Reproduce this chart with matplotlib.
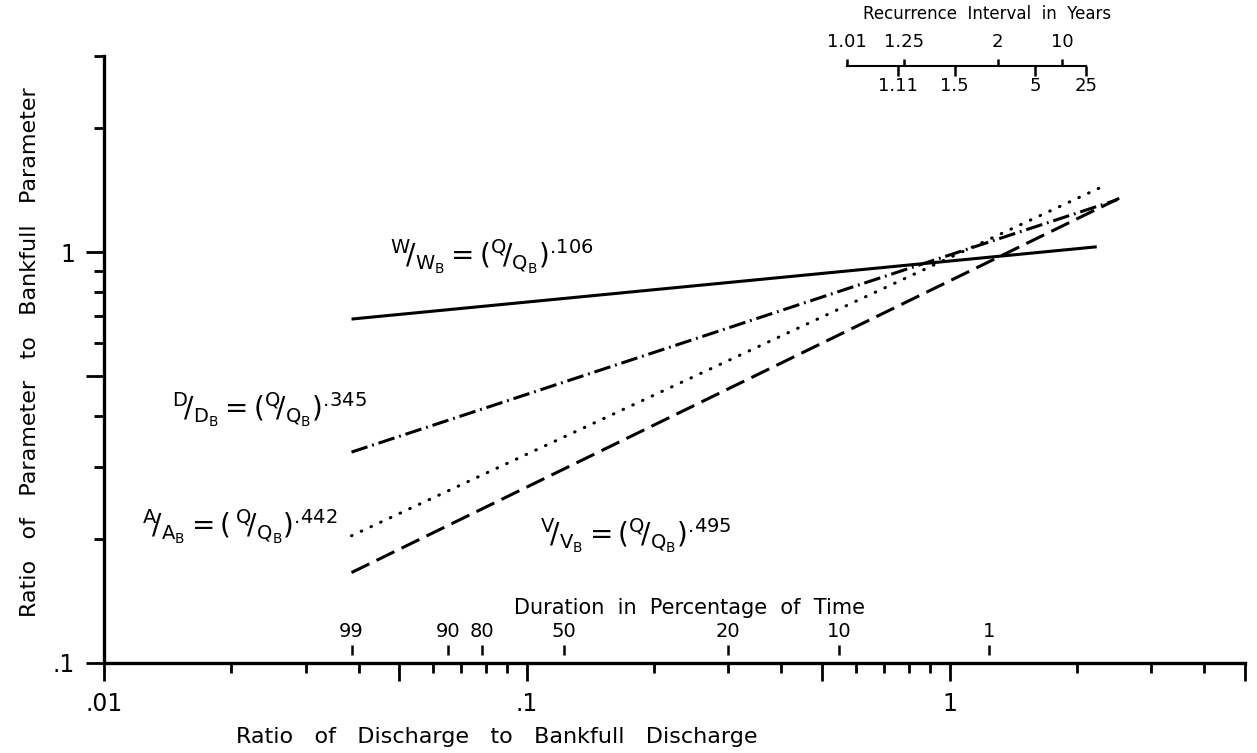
import matplotlib
matplotlib.use('Agg')
import matplotlib.pyplot as plt

# Ratio of discharge to bankfull discharge at the ends of each line
width_q = [0.0385, 2.23]
width_r = [0.687, 1.03]
depth_q = [0.0385, 2.49]
depth_r = [0.326, 1.34]
area_q = [0.0385, 2.29]
area_r = [0.204, 1.44]
vel_q = [0.0385, 2.55]
vel_r = [0.166, 1.36]

# Duration in percentage of time (scale above the x axis)
dur_labels = ['99', '90', '80', '50', '20', '10', '1']
dur_q = [0.0385, 0.0652, 0.0785, 0.1226, 0.299, 0.547, 1.24]

# Recurrence interval in years (small scale at top right)
ri_top_labels = ['1.01', '1.25', '2', '10']
ri_top_q = [0.572, 0.782, 1.30, 1.848]
ri_bot_labels = ['1.11', '1.5', '5', '25']
ri_bot_q = [0.756, 1.028, 1.594, 2.108]

plt.rcParams['mathtext.default'] = 'regular'
plt.rcParams['font.family'] = 'DejaVu Sans'

fig = plt.figure(figsize=(12.57, 7.53), dpi=100)
ax = fig.add_axes([104 / 1257, 1 - 663 / 753, 1141 / 1257, 607 / 753])
ax.set_xscale('log')
ax.set_yscale('log')
ax.set_xlim(0.01, 5)
ax.set_ylim(0.1, 3)

lw = 2.2
ax.plot(width_q, width_r, color='black', lw=lw, solid_capstyle='butt')
ax.plot(depth_q, depth_r, color='black', lw=lw, dashes=(5.5, 1.6, 0.6, 1.6))
ax.plot(area_q, area_r, color='black', lw=lw, dashes=(0.2, 3.3),
        dash_capstyle='round')
ax.plot(vel_q, vel_r, color='black', lw=lw, dashes=(6.5, 2.6))

# equations
eq_kw = dict(fontsize=20, va='center', ha='left')
ax.text(0.0474, 0.972, r'${}^{W}\!/_{W_B} = (^{Q}\!/_{Q_B})^{.\!106}$', **eq_kw)
ax.text(0.01452, 0.413, r'${}^{D}\!/_{D_B} = (^{Q}\!/_{Q_B})^{.\!345}$', **eq_kw)
ax.text(0.01231, 0.214, r'${}^{A}\!/_{A_B} = (\,^{Q}\!/_{Q_B})^{.\!442}$', **eq_kw)
ax.text(0.1074, 0.204, r'${}^{V}\!/_{V_B} = (^{Q}\!/_{Q_B})^{.\!495}$', **eq_kw)

# spines and ticks
for s in ['top', 'right']:
    ax.spines[s].set_visible(False)
for s in ['left', 'bottom']:
    ax.spines[s].set_linewidth(2.4)

ax.set_xticks([0.01, 0.05, 0.1, 0.5, 1, 5])
ax.set_xticklabels(['.01', '', '.1', '', '1', ''])
ax.set_xticks([m * d for d in [0.01, 0.1, 1] for m in [2, 3, 4, 6, 7, 8, 9]
               if m * d < 5], minor=True)
ax.set_xticklabels([], minor=True)
ax.set_yticks([0.1, 0.5, 1])
ax.set_yticklabels(['.1', '', '1'])
ax.set_yticks([0.2, 0.3, 0.4, 0.6, 0.7, 0.8, 0.9, 2, 3], minor=True)
ax.set_yticklabels([], minor=True)
ax.tick_params(which='major', length=13, width=2, direction='out',
               labelsize=17, pad=8)
ax.tick_params(which='minor', length=7, width=2, direction='out')

ax.set_xlabel('Ratio   of   Discharge   to   Bankfull   Discharge',
              fontsize=16, va='center')
ax.xaxis.set_label_coords(0.344, -0.122)
ax.set_ylabel('Ratio   of   Parameter   to   Bankfull   Parameter',
              fontsize=16, va='center')
ax.yaxis.set_label_coords(-0.065, 0.512)

# duration scale
ax.vlines(dur_q, 0.1045, 0.1105, color='black', lw=1.8)
for q, lab in zip(dur_q, dur_labels):
    ax.text(q, 0.119, lab, ha='center', va='center', fontsize=14)
ax.text(0.243, 0.136, 'Duration  in  Percentage  of  Time', ha='center',
        va='center', fontsize=15)

# recurrence interval scale
ri_y = 2.835
ax.plot([ri_top_q[0], ri_bot_q[-1]], [ri_y, ri_y], color='black', lw=1.5,
        clip_on=False)
ax.vlines(ri_top_q, ri_y, 2.95, color='black', lw=1.8, clip_on=False)
ax.vlines(ri_bot_q, 2.68, ri_y, color='black', lw=1.8, clip_on=False)
for q, lab in zip(ri_top_q, ri_top_labels):
    ax.text(q, 3.24, lab, ha='center', va='center', fontsize=13)
for q, lab in zip(ri_bot_q, ri_bot_labels):
    ax.text(q, 2.535, lab, ha='center', va='center', fontsize=13)
ax.text(1.23, 3.79, 'Recurrence  Interval  in  Years', ha='center',
        va='center', fontsize=12)

fig.savefig('out.png', dpi=100)
